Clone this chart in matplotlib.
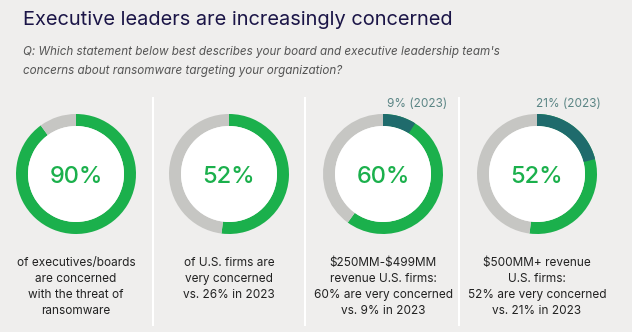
import matplotlib.pyplot as plt

plt.rcParams['font.family'] = ['Inter', 'DejaVu Sans']

# survey results, % of respondents
values = [90, 52, 60, 52]
prior_2023 = [None, None, 9, 21]
center_labels = ['90%', '52%', '60%', '52%']
prior_labels = [None, None, '9% (2023)', '21% (2023)']
captions = [
    'of executives/boards\nare concerned\nwith the threat of\nransomware',
    'of U.S. firms are\nvery concerned\nvs. 26% in 2023',
    r'\$250MM-\$499MM' + '\nrevenue U.S. firms:\n60% are very concerned\nvs. 9% in 2023',
    r'\$500MM+ revenue' + '\nU.S. firms:\n52% are very concerned\nvs. 21% in 2023',
]

W, H = 632, 332
bg = '#efeeed'
green = '#1bb04c'
grey = '#c6c6c3'
teal = '#1f6b6c'

fig = plt.figure(figsize=(W / 100, H / 100), dpi=100, facecolor=bg)


def px(x, y):
    return x / W, 1 - y / H


fig.text(*px(23, 25), 'Executive leaders are increasingly concerned',
         fontsize=14.4, color='#1b1547', va='baseline')
fig.text(*px(23, 55), "Q: Which statement below best describes your board and executive leadership team's",
         fontsize=8.4, style='italic', color='#555555', va='baseline')
fig.text(*px(23, 74), 'concerns about ransomware targeting your organization?',
         fontsize=8.4, style='italic', color='#555555', va='baseline')

centers = [76, 229, 383, 537]
cy = 174
r = 60

# column dividers
for x in [153, 305, 459]:
    fig.add_artist(plt.Line2D([x / W, x / W], [1 - 98 / H, 1 - 325 / H],
                              color='white', lw=1.5))

for i, cx in enumerate(centers):
    ax = fig.add_axes([(cx - r) / W, (H - cy - r) / H, 2 * r / W, 2 * r / H])
    ax.pie([values[i], 100 - values[i]], colors=[green, grey], startangle=90,
           counterclock=False, radius=1, wedgeprops=dict(width=0.2, linewidth=0))
    if prior_2023[i] is not None:
        ax.pie([prior_2023[i], 100 - prior_2023[i]], colors=[teal, 'none'], startangle=90,
               counterclock=False, radius=1, wedgeprops=dict(width=0.2, linewidth=0))
    ax.add_patch(plt.Circle((0, 0), 0.8, color='white', lw=0))
    ax.text(0, -0.05, center_labels[i], ha='center', va='center', fontsize=17,
            color=green, fontweight='medium')
    ax.set_xlim(-1, 1)
    ax.set_ylim(-1, 1)
    ax.set_aspect('equal')
    ax.axis('off')

    fig.text(*px(cx, 257), captions[i], ha='center', va='top', fontsize=8.5,
             color='#222222', linespacing=1.45)
    if prior_labels[i]:
        fig.text(*px(cx + 64, 107), prior_labels[i], ha='right', va='baseline',
                 fontsize=8.5, color='#5b8585')

fig.savefig('out.png', dpi=100, facecolor=bg)
